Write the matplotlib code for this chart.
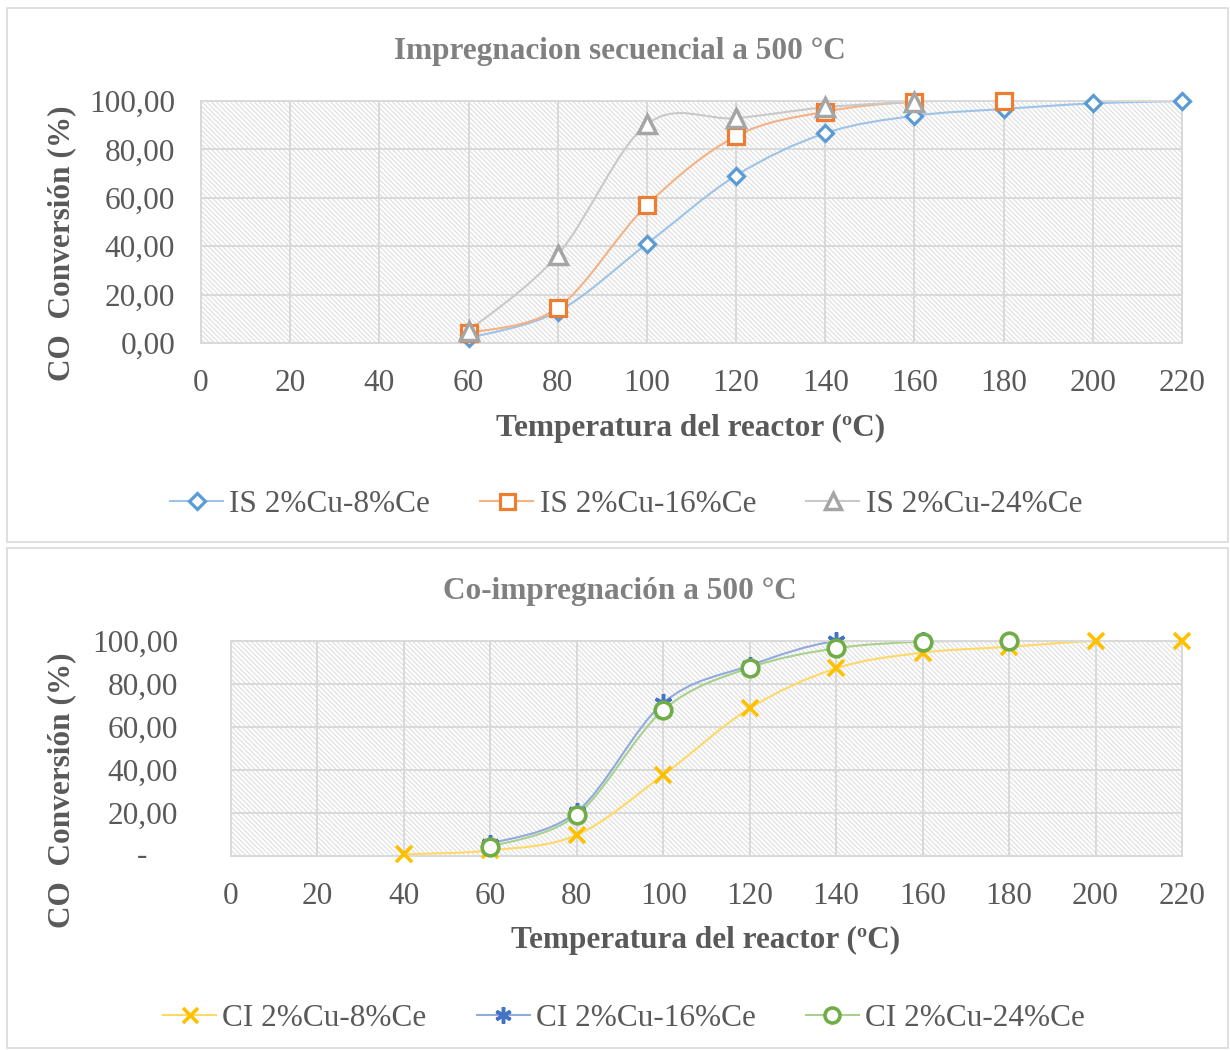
import matplotlib
matplotlib.use("Agg")
import matplotlib.pyplot as plt
from matplotlib.path import Path
from matplotlib.patches import PathPatch, Rectangle
from matplotlib.lines import Line2D
import matplotlib.transforms as mtransforms
import numpy as np

plt.rcParams['font.family'] = ['Liberation Serif', 'DejaVu Serif']
plt.rcParams['hatch.linewidth'] = 0.8

# ---------------- data ----------------
top_title = "Impregnacion secuencial a 500 °C"
bot_title = "Co-impregnación a 500 °C"
x_label = "Temperatura del reactor (ºC)"
y_label = "CO  Conversión (%)"

x_ticks = [0, 20, 40, 60, 80, 100, 120, 140, 160, 180, 200, 220]
y_ticks = [0, 20, 40, 60, 80, 100]
top_ytick_labels = ["0,00", "20,00", "40,00", "60,00", "80,00", "100,00"]
bot_ytick_labels = ["-", "20,00", "40,00", "60,00", "80,00", "100,00"]

is8_x = [60, 80, 100, 120, 140, 160, 180, 200, 220]
is8_y = [2.0, 13.0, 41.0, 69.2, 86.7, 93.9, 96.7, 99.0, 100.0]
is16_x = [60, 80, 100, 120, 140, 160, 180]
is16_y = [4.1, 14.5, 57.0, 85.5, 95.6, 99.7, 100.0]
is24_x = [60, 80, 100, 120, 140, 160]
is24_y = [5.0, 36.4, 90.4, 92.9, 97.4, 99.7]
top_names = ["IS 2%Cu-8%Ce", "IS 2%Cu-16%Ce", "IS 2%Cu-24%Ce"]

ci8_x = [40, 60, 80, 100, 120, 140, 160, 180, 200, 220]
ci8_y = [0.8, 2.6, 9.8, 37.7, 68.7, 87.3, 94.6, 97.3, 100.0, 100.0]
ci16_x = [60, 80, 100, 120, 140, 160, 180]
ci16_y = [5.7, 20.5, 71.2, 88.6, 100.0, 100.0, 100.0]
ci24_x = [60, 80, 100, 120, 140, 160, 180]
ci24_y = [4.3, 19.1, 67.9, 87.6, 96.6, 99.7, 100.0]
bot_names = ["CI 2%Cu-8%Ce", "CI 2%Cu-16%Ce", "CI 2%Cu-24%Ce"]

# ---------------- styles ----------------
W, H = 1230, 1050
TXT = '#595959'
GRID = '#d9d9d9'
FS = 22.5

fig = plt.figure(figsize=(W / 100, H / 100), dpi=100)
fig.patch.set_facecolor('white')

def fx(px):
    return px / W

def fy(py):
    return 1 - py / H

# chart borders
for (x0, y0, x1, y1) in [(7, 8, 1228, 542), (7, 548, 1228, 1048)]:
    fig.add_artist(Rectangle((fx(x0), fy(y1)), fx(x1) - fx(x0), fy(y0) - fy(y1),
                             transform=fig.transFigure, facecolor='none',
                             edgecolor=GRID, lw=1.2))

def smooth_line(ax, xs, ys, color, lw=1.5):
    P = np.column_stack([xs, ys]).astype(float)
    n = len(P)
    verts = [tuple(P[0])]
    codes = [Path.MOVETO]
    for i in range(n - 1):
        p0 = P[i - 1] if i > 0 else P[i]
        p1 = P[i]
        p2 = P[i + 1]
        p3 = P[i + 2] if i + 2 < n else P[i + 1]
        c1 = p1 + (p2 - p0) / 6.0
        c2 = p2 - (p3 - p1) / 6.0
        verts += [tuple(c1), tuple(c2), tuple(p2)]
        codes += [Path.CURVE4] * 3
    ax.add_patch(PathPatch(Path(verts, codes), facecolor='none', edgecolor=color,
                           lw=lw, zorder=2, capstyle='round', joinstyle='round'))

def setup_axes(rect, ylabels, dash_zero=False, ypad=18.7):
    ax = fig.add_axes(rect)
    ax.set_xlim(0, 220)
    ax.set_ylim(0, 100)
    ax.set_facecolor('white')
    ax.add_patch(Rectangle((0, 0), 1, 1, transform=ax.transAxes, facecolor='white',
                           edgecolor='#dedede', lw=0, hatch='\\' * 7, zorder=0.1))
    ax.set_axisbelow(True)
    ax.grid(True, color=GRID, lw=1.4, zorder=0.5)
    for s in ax.spines.values():
        s.set_color(GRID)
        s.set_linewidth(1.4)
    ax.set_xticks(x_ticks)
    ax.set_xticklabels([str(v) for v in x_ticks])
    ax.set_yticks(y_ticks)
    labs = list(ylabels)
    if dash_zero:
        labs[0] = ''
    ax.set_yticklabels(labs)
    ax.tick_params(length=0, labelsize=FS, colors=TXT)
    ax.tick_params(axis='y', pad=ypad)
    ax.tick_params(axis='x', pad=19)
    return ax

# ---------------- top chart ----------------
ax1 = setup_axes([fx(201), fy(343), fx(1182) - fx(201), fy(101) - fy(343)], top_ytick_labels)
top_series = [
    (is8_x, is8_y, '#5B9BD5', '#9DC3E6', 'D', 8.5, 2.3),
    (is16_x, is16_y, '#ED7D31', '#F4B183', 's', 12.0, 2.3),
    (is24_x, is24_y, '#A5A5A5', '#C9C9C9', '^', 12.5, 2.5),
]
handles = []
for (xs, ys, mc, lc, m, ms, mew), name in zip(top_series, top_names):
    smooth_line(ax1, xs, ys, lc)
    ax1.plot(xs, ys, ls='none', marker=m, ms=ms, mfc='white', mec=mc, mew=mew,
             zorder=3, clip_on=False)
    handles.append(Line2D([], [], color=lc, lw=1.5, marker=m, ms=ms * 0.9,
                          mfc='white', mec=mc, mew=mew))
fig.text(fx(620), fy(51), top_title, ha='center', va='center', fontsize=FS,
         fontweight='bold', color='#808080')
fig.text(fx(691), fy(428), x_label, ha='center', va='center', fontsize=FS,
         fontweight='bold', color=TXT)
fig.text(fx(62), fy(243), y_label, ha='center', va='center', rotation=90,
         fontsize=FS, fontweight='bold', color=TXT)
fig.legend(handles, top_names, loc='center', bbox_to_anchor=(fx(626), fy(504)),
           ncol=3, frameon=False, fontsize=FS, handlelength=1.7, handletextpad=0.2,
           columnspacing=1.6, labelcolor=TXT)

# ---------------- bottom chart ----------------
ax2 = setup_axes([fx(231), fy(856), fx(1182) - fx(231), fy(641) - fy(856)],
                 bot_ytick_labels, dash_zero=True, ypad=38)
ax2.text(fx(142), 0, bot_ytick_labels[0],
         transform=mtransforms.blended_transform_factory(fig.transFigure, ax2.transData),
         ha='center', va='center', fontsize=FS, color=TXT)
bot_series = [
    (ci8_x, ci8_y, '#FFC000', '#FFD966', 'x', 12.0, 2.6),
    (ci16_x, ci16_y, '#4472C4', '#8FAADC', (6, 2, 0), 13.0, 2.5),
    (ci24_x, ci24_y, '#70AD47', '#A9D18E', 'o', 12.0, 2.6),
]
handles2 = []
for (xs, ys, mc, lc, m, ms, mew), name in zip(bot_series, bot_names):
    smooth_line(ax2, xs, ys, lc)
    ax2.plot(xs, ys, ls='none', marker=m, ms=ms, mfc='white', mec=mc, mew=mew,
             zorder=3, clip_on=False)
    handles2.append(Line2D([], [], color=lc, lw=1.5, marker=m, ms=ms * 0.9,
                           mfc='white', mec=mc, mew=mew))
fig.text(fx(620), fy(591), bot_title, ha='center', va='center', fontsize=FS,
         fontweight='bold', color='#808080')
fig.text(fx(706), fy(940), x_label, ha='center', va='center', fontsize=FS,
         fontweight='bold', color=TXT)
fig.text(fx(62), fy(790), y_label, ha='center', va='center', rotation=90,
         fontsize=FS, fontweight='bold', color=TXT)
fig.legend(handles2, bot_names, loc='center', bbox_to_anchor=(fx(624), fy(1018)),
           ncol=3, frameon=False, fontsize=FS, handlelength=1.7, handletextpad=0.2,
           columnspacing=1.6, labelcolor=TXT)

fig.savefig("out.png", dpi=100)
